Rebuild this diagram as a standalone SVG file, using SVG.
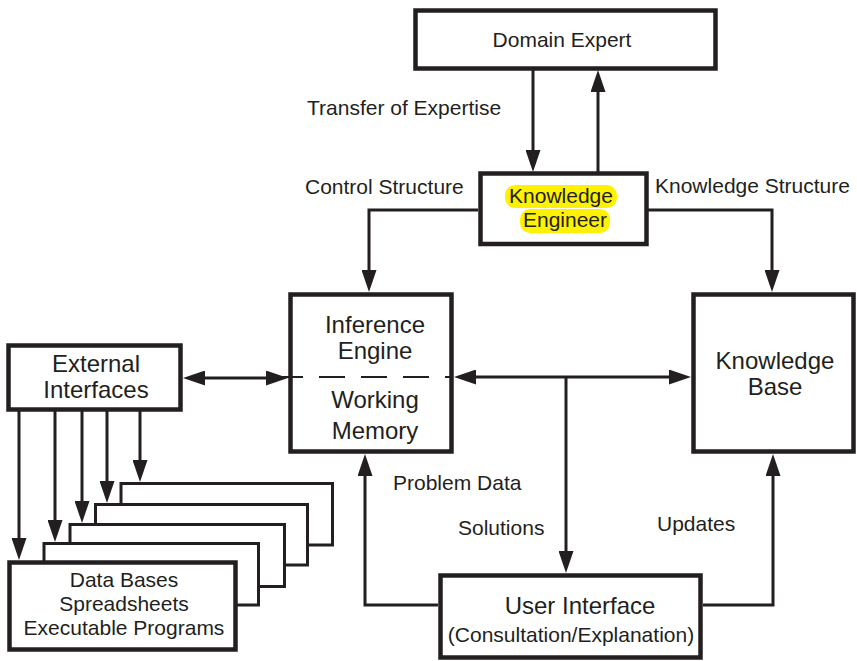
<svg xmlns="http://www.w3.org/2000/svg" width="857" height="661" viewBox="0 0 857 661">
<defs>
<style>
.box{fill:#fff;stroke:#231f20;stroke-width:4.5}
.stack{fill:#fff;stroke:#231f20;stroke-width:3}
.c{fill:none;stroke:#231f20;stroke-width:3}
.t{font-family:"Liberation Sans",Arial,sans-serif;fill:#231f20}
.b24{font-size:24px;text-anchor:middle}
.b21{font-size:21px;text-anchor:middle}
.l{font-size:21px}
.hl{fill:#fff200}
</style>
<marker id="ah" markerUnits="userSpaceOnUse" viewBox="0 0 22 15" refX="16" refY="7.5" markerWidth="22" markerHeight="15" orient="auto-start-reverse">
<path d="M0,0 L22,7.5 L0,15 z" fill="#231f20"/>
</marker>
</defs>
<rect width="857" height="661" fill="#fff"/>

<g id="connectors">
<line class="c" x1="533" y1="70" x2="533" y2="166" marker-end="url(#ah)"/>
<line class="c" x1="598" y1="172" x2="598" y2="76" marker-end="url(#ah)"/>
<path class="c" d="M478,210 H369 V286" marker-end="url(#ah)"/>
<path class="c" d="M648,210 H772 V286" marker-end="url(#ah)"/>
<line class="c" x1="460" y1="377" x2="685" y2="377" marker-start="url(#ah)" marker-end="url(#ah)"/>
<line class="c" x1="566" y1="377" x2="566" y2="567" marker-end="url(#ah)"/>
<path class="c" d="M438,605 H365 V460" marker-end="url(#ah)"/>
<path class="c" d="M703,605 H773 V460" marker-end="url(#ah)"/>
<line class="c" x1="189" y1="378" x2="282" y2="378" marker-start="url(#ah)" marker-end="url(#ah)"/>
<line class="c" x1="19" y1="411" x2="19" y2="554" marker-end="url(#ah)"/>
<line class="c" x1="55" y1="411" x2="55" y2="536" marker-end="url(#ah)"/>
<line class="c" x1="82" y1="411" x2="82" y2="517" marker-end="url(#ah)"/>
<line class="c" x1="107" y1="411" x2="107" y2="497" marker-end="url(#ah)"/>
<line class="c" x1="140" y1="411" x2="140" y2="476" marker-end="url(#ah)"/>
</g>

<g id="domain-expert">
<rect class="box" x="415.5" y="10.5" width="300" height="58"/>
<text class="t b21" x="562" y="47">Domain Expert</text>
</g>

<g id="knowledge-engineer">
<rect class="box" x="480.5" y="173.5" width="166" height="70.5"/>
<rect class="hl" x="505" y="185" width="112" height="23" rx="10"/>
<rect class="hl" x="520" y="209" width="90" height="24" rx="10"/>
<text class="t b21" x="561" y="203">Knowledge</text>
<text class="t b21" x="565" y="227">Engineer</text>
</g>

<g id="inference-engine">
<rect class="box" x="290.5" y="294.5" width="161" height="157"/>
<line x1="277" y1="377" x2="453" y2="377" stroke="#231f20" stroke-width="2" stroke-dasharray="26 16"/>
<text class="t b24" x="375" y="333">Inference</text>
<text class="t b24" x="375" y="359">Engine</text>
<text class="t b24" x="375" y="408">Working</text>
<text class="t b24" x="375" y="439">Memory</text>
</g>

<g id="knowledge-base">
<rect class="box" x="693.5" y="294.5" width="160" height="157"/>
<text class="t b24" x="775" y="369">Knowledge</text>
<text class="t b24" x="775" y="395">Base</text>
</g>

<g id="external-interfaces">
<rect class="box" x="8.5" y="345.5" width="172" height="64"/>
<text class="t b24" x="96" y="372">External</text>
<text class="t b24" x="96" y="398">Interfaces</text>
</g>

<g id="data-stack">
<rect class="stack" x="121" y="483.5" width="211.5" height="61.5"/>
<rect class="stack" x="95.5" y="504.5" width="212" height="60.5"/>
<rect class="stack" x="70" y="524.5" width="214.5" height="62"/>
<rect class="stack" x="44" y="543.5" width="214.5" height="61.5"/>
<rect class="box" x="9.5" y="562.5" width="226" height="87"/>
<text class="t b21" x="124" y="587">Data Bases</text>
<text class="t b21" x="124" y="611">Spreadsheets</text>
<text class="t b21" x="124" y="635">Executable Programs</text>
</g>

<g id="user-interface">
<rect class="box" x="440.5" y="575.5" width="260" height="82"/>
<text class="t b24" x="580" y="614">User Interface</text>
<text class="t b21" x="571" y="642">(Consultation/Explanation)</text>
</g>

<g id="labels">
<text class="t l" x="307" y="115">Transfer of Expertise</text>
<text class="t l" x="305" y="194">Control Structure</text>
<text class="t l" x="655" y="193">Knowledge Structure</text>
<text class="t l" x="393" y="490">Problem Data</text>
<text class="t l" x="458" y="535">Solutions</text>
<text class="t l" x="657" y="531">Updates</text>
</g>
</svg>
